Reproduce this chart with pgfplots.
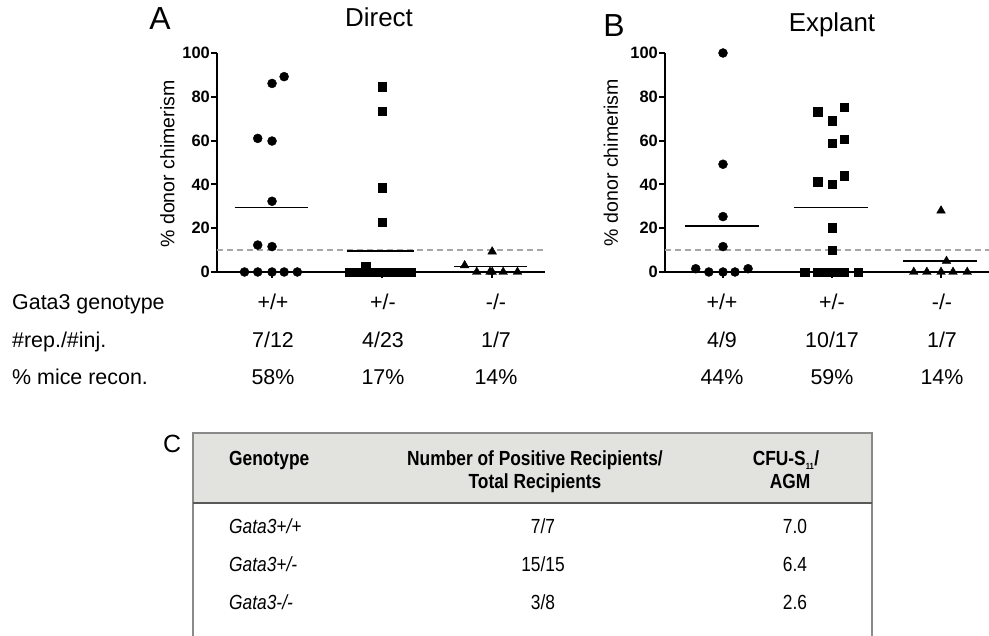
\documentclass[border=0pt]{standalone}
\usepackage{fontspec}
\setmainfont{Liberation Sans}
\newfontfamily\narrowfont[FakeStretch=0.85]{Liberation Sans}
\usepackage{pgfplots}
\pgfplotsset{compat=1.18}
\definecolor{hdrfill}{HTML}{E2E2DE}
\definecolor{bordergray}{HTML}{8A8A8A}
\newcommand\tickfont{\fontsize{16.5}{16.5}\selectfont\bfseries}
\begin{document}
\begin{tikzpicture}
\path[use as bounding box] (0,0) rectangle (989bp,636bp);
\pgfplotsset{
  panel/.style={
    scale only axis, height=219bp,
    axis lines=left, axis line style={-, line width=2.8bp, black},
    ymin=0, ymax=100,
    ytick={0,20,40,60,80,100},
    yticklabels={{\tickfont 0},{\tickfont 20},{\tickfont 40},{\tickfont 60},{\tickfont 80},{\tickfont 100}},
    xtick={0,1,2}, xticklabels={},
    tick align=outside, major tick length=6bp,
    every tick/.style={black, line width=2bp},
    yticklabel style={inner sep=1bp},
    clip=false,
  },
  circ/.style={only marks, mark=*, mark size=4.5bp, black},
  sq/.style={only marks, mark=square*, mark size=4.2bp, black},
  tri/.style={only marks, mark=triangle*, mark size=5bp, black},
  meanl/.style={black, line width=1.6bp, no marks},
  ref/.style={gray!70, line width=1.3bp, dash pattern=on 6bp off 4bp, no marks},
}
% ---------------- Panel A: Direct ----------------
\begin{axis}[panel, at={(217bp,364bp)}, anchor=south west, width=328bp, xmin=-0.5, xmax=2.48]
\addplot[ref] coordinates {(-0.5,10) (2.48,10)};
% +/+
\addplot[circ] coordinates {(0.11,89.2) (0,86.1) (-0.13,61.0) (0,59.8) (0,32.3) (-0.13,12.3) (0,11.6)
 (-0.25,0) (-0.13,0) (0,0) (0.11,0) (0.23,0)};
\addplot[meanl] coordinates {(-0.34,29.5) (0.33,29.5)};
% +/-
\addplot[sq] coordinates {(1,84.6) (1,73.5) (1,38.5) (1,22.7) (0.85,2.4)
 (0.70,0) (0.73,0) (0.76,0) (0.80,0) (0.83,0) (0.86,0) (0.90,0) (0.93,0) (0.96,0)
 (1.00,0) (1.03,0) (1.06,0) (1.10,0) (1.13,0) (1.16,0) (1.20,0) (1.23,0) (1.26,0)};
\addplot[meanl] coordinates {(0.68,9.6) (1.29,9.6)};
% -/-
\addplot[tri] coordinates {(2,9.3) (1.75,3.0) (1.86,0) (1.98,0) (2.10,0) (2.23,0) (2.0,0)};
\addplot[meanl] coordinates {(1.65,2.5) (2.32,2.5)};
\end{axis}
% ---------------- Panel B: Explant ----------------
\begin{axis}[panel, at={(665bp,364bp)}, anchor=south west, width=324bp, xmin=-0.532, xmax=2.44]
\addplot[ref] coordinates {(-0.532,10) (2.44,10)};
% +/+
\addplot[circ] coordinates {(0,100) (0,49.2) (0,25.3) (0,11.6)
 (-0.25,1.5) (-0.13,0) (0,0) (0.11,0) (0.23,1.5)};
\addplot[meanl] coordinates {(-0.35,21.1) (0.33,21.1)};
% +/-
\addplot[sq] coordinates {(0.87,73.2) (1,69.1) (1.11,75.2) (1,58.8) (1.11,60.7) (0.87,41.2) (1,40.2) (1.11,44.0) (1,20.2) (1,10.0)
 (0.75,0) (0.87,0) (0.94,0) (1,0) (1.06,0) (1.11,0) (1.24,0)};
\addplot[meanl] coordinates {(0.65,29.4) (1.33,29.4)};
% -/-
\addplot[tri] coordinates {(2,28.0) (2.05,5.0) (1.75,0) (1.87,0) (2,0) (2.11,0) (2.24,0)};
\addplot[meanl] coordinates {(1.65,4.9) (2.33,4.9)};
\end{axis}
% ---------------- Text (image coordinates, y downwards) ----------------
\begin{scope}[x=1bp, y=-1bp, shift={(0,636bp)}]
\node[anchor=base, font=\fontsize{32}{32}\selectfont, inner sep=0] at (160,30) {A};
\node[anchor=base, font=\fontsize{26}{26}\selectfont, inner sep=0] at (379,26.7) {Direct};
\node[anchor=base, font=\fontsize{32}{32}\selectfont, inner sep=0] at (614,36.7) {B};
\node[anchor=base, font=\fontsize{26}{26}\selectfont, inner sep=0] at (832,31.7) {Explant};
\node[rotate=90, font=\fontsize{19.6}{20}\selectfont, inner sep=0] at (167.5,164) {\% donor chimerism};
\node[rotate=90, font=\fontsize{19.6}{20}\selectfont, inner sep=0] at (611,162.5) {\% donor chimerism};
\begin{scope}[every node/.style={font=\fontsize{21.5}{22}\selectfont, inner sep=0}]
\node[anchor=base west] at (12,310) {Gata3 genotype};
\node[anchor=base west] at (12,348) {\#rep./\#inj.};
\node[anchor=base west] at (12,385) {\% mice recon.};
\node[anchor=base] at (273,310) {+/+};
\node[anchor=base] at (383,310) {+/-};
\node[anchor=base] at (496,310) {-/-};
\node[anchor=base] at (273,348) {7/12};
\node[anchor=base] at (383,348) {4/23};
\node[anchor=base] at (496,348) {1/7};
\node[anchor=base] at (273,385) {58\%};
\node[anchor=base] at (383,385) {17\%};
\node[anchor=base] at (496,385) {14\%};
\node[anchor=base] at (722,310) {+/+};
\node[anchor=base] at (832,310) {+/-};
\node[anchor=base] at (942,310) {-/-};
\node[anchor=base] at (722,348) {4/9};
\node[anchor=base] at (832,348) {10/17};
\node[anchor=base] at (942,348) {1/7};
\node[anchor=base] at (722,385) {44\%};
\node[anchor=base] at (832,385) {59\%};
\node[anchor=base] at (942,385) {14\%};
\end{scope}
% ---------------- Panel C: table ----------------
\node[anchor=base, font=\fontsize{25}{25}\selectfont, inner sep=0] at (172,453) {C};
\fill[hdrfill] (193,433) rectangle (872,503);
\draw[bordergray, line width=2bp] (193,640) -- (193,433) -- (872,433) -- (872,640);
\draw[black!65, line width=2.5bp] (193,503) -- (872,503);
\begin{scope}[every node/.style={font=\narrowfont\bfseries\fontsize{20.5}{20}\selectfont, inner sep=0}]
\node[anchor=base west] at (229,466) {Genotype};
\node[anchor=base] at (535,466) {Number of Positive Recipients/};
\node[anchor=base] at (535,489) {Total Recipients};
\node[anchor=base] at (786,466) {CFU-S\textsubscript{\fontsize{9}{9}\selectfont 11}/};
\node[anchor=base] at (790,489) {AGM};
\end{scope}
\begin{scope}[every node/.style={font=\narrowfont\fontsize{20.5}{20}\selectfont, inner sep=0}]
\node[anchor=base west] at (229,534) {\itshape Gata3+/+};
\node[anchor=base west] at (229,572) {\itshape Gata3+/-};
\node[anchor=base west] at (229,610) {\itshape Gata3-/-};
\node[anchor=base] at (543,534) {7/7};
\node[anchor=base] at (543,572) {15/15};
\node[anchor=base] at (543,610) {3/8};
\node[anchor=base] at (795,534) {7.0};
\node[anchor=base] at (795,572) {6.4};
\node[anchor=base] at (795,610) {2.6};
\end{scope}
\end{scope}
\end{tikzpicture}
\end{document}
